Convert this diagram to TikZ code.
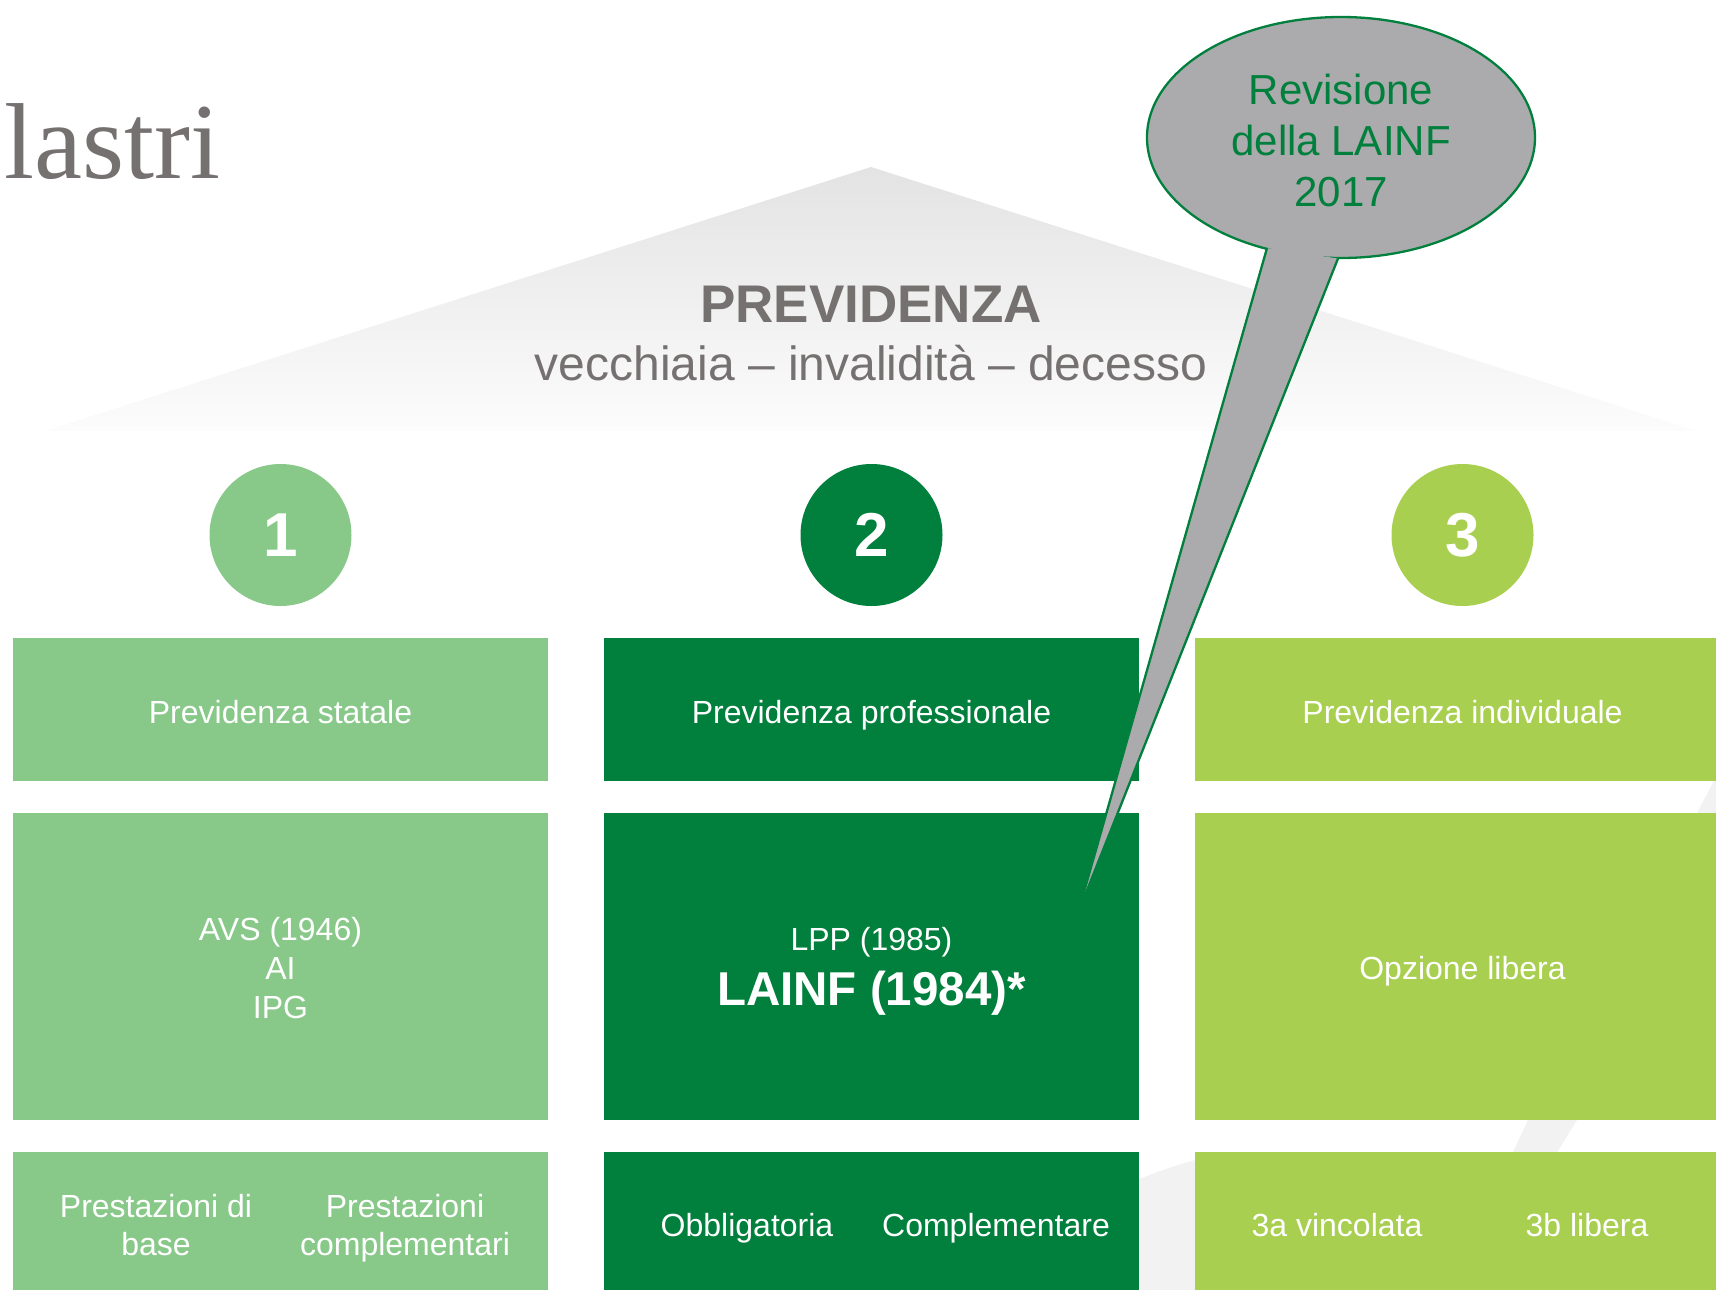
\documentclass[tikz,border=0pt]{standalone}
\usepackage{fontspec}
\setmainfont{Liberation Sans}
\newfontfamily\serifttl{Liberation Serif}
\usetikzlibrary{shapes.geometric}
\definecolor{cA}{RGB}{136,201,138}
\definecolor{cB}{RGB}{0,128,60}
\definecolor{cC}{RGB}{168,207,80}
\definecolor{gtxt}{RGB}{118,113,113}
\definecolor{callgray}{RGB}{171,171,173}
\definecolor{swoosh}{RGB}{242,242,242}
\definecolor{roofgray}{RGB}{228,227,228}
\definecolor{roofbot}{RGB}{252,252,252}
\begin{document}
\begin{tikzpicture}[x=1pt,y=-1pt,
  box/.style={rectangle, inner sep=0, minimum width=535pt},
  circ/.style={circle, inner sep=0, minimum size=142pt, text=white,
    font=\bfseries\fontsize{62}{62}\selectfont},
  lbl/.style={anchor=base, inner sep=0, text=white,
    font=\fontsize{32}{38}\selectfont},
  calltxt/.style={anchor=base, inner sep=0, text=cB,
    font=\fontsize{42}{50}\selectfont}]
\useasboundingbox (0,0) rectangle (1716,1290);
\clip (0,0) rectangle (1716,1290);

% roof
\shade[top color=roofgray, bottom color=roofbot]
  (45,431) -- (871,167) -- (1697,431) -- cycle;

% background swoosh
\fill[swoosh] (1725,760) -- (1697,813) -- (1528,1120) -- (1500,1180)
  -- (1540,1180) -- (1577,1120) -- (1800,760) -- cycle;
\fill[swoosh] (980,1290) .. controls (1060,1210) and (1130,1178) .. (1195,1160)
  -- (1300,1160) -- (1300,1290) -- cycle;

% titles
\node[anchor=base east, inner sep=0, text=gtxt,
  font=\serifttl\fontsize{108}{108}\selectfont] (ttl) at (221,178) {lastri};
\node[anchor=base, inner sep=0, text=gtxt,
  font=\bfseries\fontsize{53}{53}\selectfont] (prev) at (871,322) {PREVIDENZA};
\node[anchor=base, inner sep=0, text=gtxt,
  font=\fontsize{48}{48}\selectfont] (sub) at (871,380)
  {vecchiaia – invalidità – decesso};

% circles
\node[circ, fill=cA] (n1) at (280.5,535) {1};
\node[circ, fill=cB] (n2) at (871.5,535) {2};
\node[circ, fill=cC] (n3) at (1462.5,535) {3};

% boxes row 1
\node[box, fill=cA, minimum height=143pt] (a1) at (280.5,709.5) {};
\node[box, fill=cB, minimum height=143pt] (b1) at (871.5,709.5) {};
\node[box, fill=cC, minimum height=143pt] (c1) at (1462.5,709.5) {};
% row 2
\node[box, fill=cA, minimum height=307pt] (a2) at (280.5,966.5) {};
\node[box, fill=cB, minimum height=307pt] (b2) at (871.5,966.5) {};
\node[box, fill=cC, minimum height=307pt] (c2) at (1462.5,966.5) {};
% row 3
\node[box, fill=cA, minimum height=146pt] (a3) at (280.5,1225) {};
\node[box, fill=cB, minimum height=146pt] (b3) at (871.5,1225) {};
\node[box, fill=cC, minimum height=146pt] (c3) at (1462.5,1225) {};

% row 1 labels
\node[lbl] (la1) at (280.5,723) {Previdenza statale};
\node[lbl] (lb1) at (871.5,723) {Previdenza professionale};
\node[lbl] (lc1) at (1462.5,723) {Previdenza individuale};

% row 2 labels
\node[lbl] (la2a) at (280.5,940) {AVS (1946)};
\node[lbl] (la2b) at (280.5,979) {AI};
\node[lbl] (la2c) at (280.5,1018) {IPG};
\node[lbl] (lb2a) at (871.5,950) {LPP (1985)};
\node[lbl, font=\bfseries\fontsize{47.5}{50}\selectfont] (lb2b) at (871.5,1005) {LAINF (1984)*};
\node[lbl] (lc2) at (1462.5,979) {Opzione libera};

% row 3 labels
\node[lbl] (la3a) at (156,1217) {Prestazioni di};
\node[lbl] (la3b) at (156,1255) {base};
\node[lbl] (la3c) at (405,1217) {Prestazioni};
\node[lbl] (la3d) at (405,1255) {complementari};
\node[lbl] (lb3a) at (747,1236) {Obbligatoria};
\node[lbl] (lb3b) at (996,1236) {Complementare};
\node[lbl] (lc3a) at (1337,1236) {3a vincolata};
\node[lbl] (lc3b) at (1587,1236) {3b libera};

% callout
\node[ellipse, inner sep=0, minimum width=388pt, minimum height=241pt,
  fill=callgray, draw=cB, line width=2.3pt] (call) at (1341,137.5) {};
\coordinate (ta) at (1267,248);
\coordinate (tb) at (1338,258.5);
\coordinate (tip) at (1078,913);
\fill[callgray] (ta) -- (tip) -- (tb) -- cycle;
\draw[cB, line width=2.3pt] (ta) -- (tip);
\draw[cB, line width=2.3pt] (tb) -- (tip);
\node[calltxt] (ct1) at (1341,104) {Revisione};
\node[calltxt] (ct2) at (1341,155) {della LAINF};
\node[calltxt] (ct3) at (1341,206) {2017};
\end{tikzpicture}
\end{document}
